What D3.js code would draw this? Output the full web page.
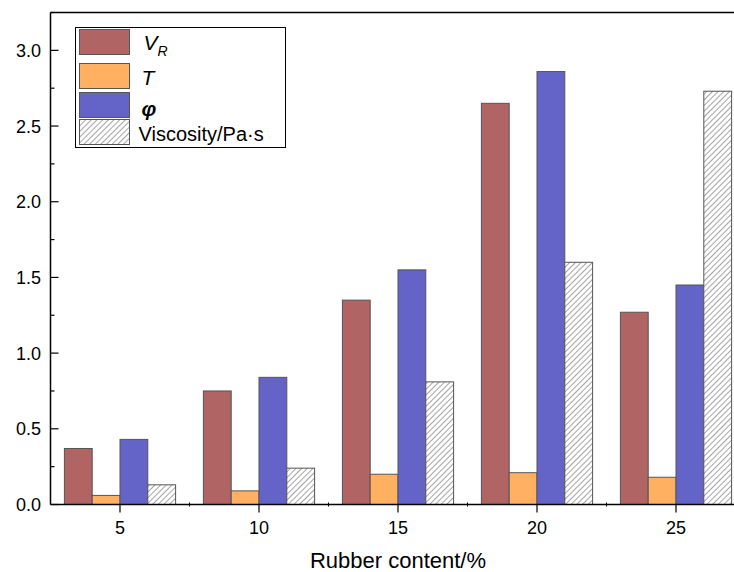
<!DOCTYPE html>
<html>
<head>
<meta charset="utf-8">
<script src="https://cdn.jsdelivr.net/npm/d3@7"></script>
<style>
  body { margin: 0; background: #fff; }
  text { font-family: "Liberation Sans", Arial, sans-serif; fill: #000; }
</style>
</head>
<body>
<script>
// rubber content groups
const contents = [5, 10, 15, 20, 25];
const vR = [0.37, 0.75, 1.35, 2.65, 1.27];
const tVals = [0.06, 0.09, 0.20, 0.21, 0.18];
const phi = [0.43, 0.84, 1.55, 2.86, 1.45];
const viscosity = [0.13, 0.24, 0.81, 1.60, 2.73];
const yTicks = [0, 0.5, 1.0, 1.5, 2.0, 2.5, 3.0];

const series = [
  {key: "vR", values: vR, fill: "#b06464"},
  {key: "T", values: tVals, fill: "#ffb060"},
  {key: "phi", values: phi, fill: "#6464c8"},
  {key: "visc", values: viscosity, fill: "url(#hatch)"}
];

const width = 734, height = 572;
const plot = {left: 50.5, right: 745.5, top: 12.5, bottom: 504.5};

const svg = d3.select("body").append("svg")
    .attr("width", width).attr("height", height);

let pat = svg.append("defs").append("pattern")
    .attr("id", "hatch")
    .attr("patternUnits", "userSpaceOnUse")
    .attr("width", 4).attr("height", 4)
    .attr("patternTransform", "rotate(45)");
pat.append("rect").attr("width", 4).attr("height", 4).attr("fill", "#fff");
pat.append("line").attr("x1", 0).attr("y1", 0).attr("x2", 0).attr("y2", 4)
    .attr("stroke", "#4a4a4a").attr("stroke-width", 1);

let x = d3.scaleLinear().domain([2.5, 27.5]).range([plot.left, plot.right]);
let y = d3.scaleLinear().domain([0, 3.25]).range([plot.bottom, plot.top]);
let sub = d3.scaleBand().domain(series.map(s => s.key)).range([-2, 2]);

// bars
series.forEach(s => {
  svg.append("g").selectAll("rect")
    .data(s.values)
    .enter().append("rect")
      .attr("x", (d, i) => x(contents[i] + sub(s.key)))
      .attr("width", x(contents[0] + sub.bandwidth()) - x(contents[0]))
      .attr("y", d => y(d))
      .attr("height", d => y(0) - y(d))
      .attr("fill", s.fill)
      .attr("stroke", "#555")
      .attr("stroke-width", 1);
});

// y axis, ticks inward
let yAxis = svg.append("g").attr("transform", "translate(" + plot.left + ",0)");
yAxis.append("line").attr("y1", plot.top).attr("y2", plot.bottom).attr("stroke", "#000").attr("stroke-width", 1.5);
yAxis.selectAll(".major").data(yTicks).enter().append("line")
    .attr("x1", 0).attr("x2", 8).attr("y1", d => y(d)).attr("y2", d => y(d))
    .attr("stroke", "#000").attr("stroke-width", 1.2);
yAxis.selectAll(".minor").data(yTicks.map(d => d + 0.25)).enter().append("line")
    .attr("x1", 0).attr("x2", 4).attr("y1", d => y(d)).attr("y2", d => y(d))
    .attr("stroke", "#000").attr("stroke-width", 1.2);
yAxis.selectAll("text").data(yTicks).enter().append("text")
    .attr("x", -9.5).attr("y", d => y(d)).attr("dy", "0.36em")
    .attr("text-anchor", "end").style("font-size", "18px")
    .text(d3.format(".1f"));

// x axis, ticks outward
let xAxis = svg.append("g").attr("transform", "translate(0," + plot.bottom + ")");
xAxis.append("line").attr("x1", plot.left).attr("x2", plot.right).attr("stroke", "#000").attr("stroke-width", 1.5);
xAxis.selectAll(".major").data(contents).enter().append("line")
    .attr("x1", d => x(d)).attr("x2", d => x(d)).attr("y1", 0).attr("y2", 8)
    .attr("stroke", "#000").attr("stroke-width", 1.2);
xAxis.selectAll(".minor").data(contents.map(d => d + 2.5)).enter().append("line")
    .attr("x1", d => x(d)).attr("x2", d => x(d)).attr("y1", -2).attr("y2", 2)
    .attr("stroke", "#000").attr("stroke-width", 1);
xAxis.selectAll("text").data(contents).enter().append("text")
    .attr("x", d => x(d)).attr("y", 29)
    .attr("text-anchor", "middle").style("font-size", "18px")
    .text(d => d);

// top frame line
svg.append("line").attr("x1", plot.left).attr("x2", plot.right).attr("y1", plot.top).attr("y2", plot.top)
    .attr("stroke", "#000").attr("stroke-width", 1.5);

svg.append("text")
    .attr("x", 398).attr("y", 568)
    .attr("text-anchor", "middle").style("font-size", "22px")
    .text("Rubber content/%");

// legend
let legend = svg.append("g").attr("transform", "translate(75.5,27.5)");
legend.append("rect").attr("width", 210).attr("height", 120)
    .attr("fill", "#fff").attr("stroke", "#000").attr("stroke-width", 1);
let rowsY = [2, 36, 65, 92];
series.forEach((s, i) => {
  legend.append("rect")
    .attr("x", 4).attr("y", rowsY[i]).attr("width", 50).attr("height", 25)
    .attr("fill", s.fill).attr("stroke", "#555");
});
let lt = legend.append("text").attr("x", 68).attr("y", 22).style("font-size", "21px").style("font-style", "italic");
lt.append("tspan").text("V");
lt.append("tspan").attr("dy", 6).style("font-size", "14px").text("R");
legend.append("text").attr("x", 66).attr("y", 57).style("font-size", "21px").style("font-style", "italic").text("T");
legend.append("text").attr("x", 66).attr("y", 88).style("font-size", "21px").style("font-style", "italic")
    .style("font-weight", "bold").text("φ");
legend.append("text").attr("x", 63).attr("y", 113).style("font-size", "20px").text("Viscosity/Pa·s");
</script>
</body>
</html>
